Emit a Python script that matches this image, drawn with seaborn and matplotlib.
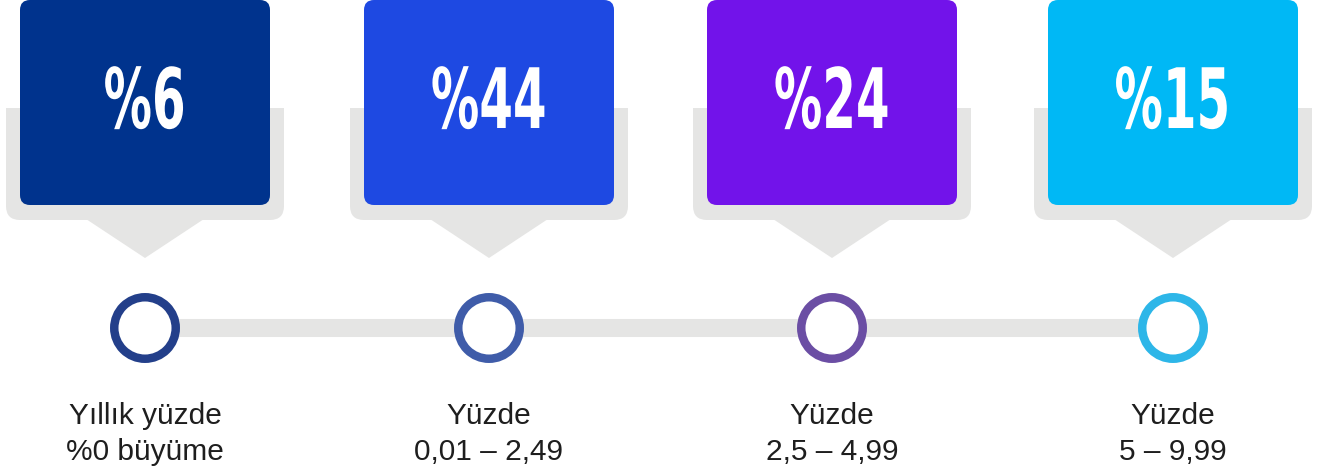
import matplotlib
matplotlib.use("Agg")
import matplotlib.pyplot as plt
from matplotlib.patches import FancyBboxPatch, Polygon, Rectangle
from matplotlib.patheffects import AbstractPathEffect
from matplotlib.transforms import Affine2D
import seaborn as sns
import pandas as pd

# ── data ───────────────────────────────────────────────────────────────────────
shares = [6, 44, 24, 15]
labels = ["Yıllık yüzde\n%0 büyüme", "Yüzde\n0,01 – 2,49", "Yüzde\n2,5 – 4,99", "Yüzde\n5 – 9,99"]
box_colours = ["#00338D", "#1E49E2", "#7213EA", "#00B8F5"]
ring_colours = ["#233F8A", "#3F5CA9", "#6B4EA4", "#2DB6E8"]

# ── layout (pixel-like coordinates) ───────────────────────────────────────────
centres = [145, 489, 832, 1173]
BOX_W, BOX_TOP, BOX_BOT = 250, 0, 205
SH_W, SH_TOP, SH_BOT = 278, 108, 220
TRACK_Y = 328
GREY = "#E5E5E4"


class Squeeze(AbstractPathEffect):
    """Narrow the glyphs horizontally (condensed look) around the text centre."""
    def __init__(self, sx):
        super().__init__()
        self.sx = sx

    def draw_path(self, renderer, gc, tpath, affine, rgbFace=None):
        ext = tpath.get_extents(affine)
        cx = (ext.x0 + ext.x1) / 2
        aff = affine + Affine2D().translate(-cx, 0).scale(self.sx, 1).translate(cx, 0)
        renderer.draw_path(gc, tpath, aff, rgbFace)


sns.set_theme(style="white")
plt.rcParams["font.family"] = ["Liberation Sans", "DejaVu Sans"]

fig = plt.figure(figsize=(13.34, 4.72), dpi=100)
ax = fig.add_axes([0, 0, 1, 1])
ax.set_xlim(0, 1334)
ax.set_ylim(472, 0)
ax.axis("off")

# track line
track = pd.DataFrame({"x": [centres[0], centres[-1]], "y": [TRACK_Y, TRACK_Y]})
sns.lineplot(data=track, x="x", y="y", ax=ax, color=GREY, linewidth=13,
             solid_capstyle="butt", legend=False, zorder=1)

# rings
rings = pd.DataFrame({"x": centres, "y": [TRACK_Y] * 4, "c": ring_colours})
sns.scatterplot(data=rings, x="x", y="y", hue="c", palette=dict(zip(ring_colours, ring_colours)),
                s=1960, linewidth=6.1, ax=ax, legend=False, zorder=3)
for coll in ax.collections:
    coll.set_edgecolors(ring_colours)
    coll.set_facecolors("white")

for cx, val, lab, col in zip(centres, shares, labels, box_colours):
    # grey shadow box + pointer
    ax.add_patch(FancyBboxPatch((cx - SH_W / 2 + 14, SH_TOP + 14), SH_W - 28, SH_BOT - SH_TOP - 28,
                                boxstyle="round,pad=14", fc=GREY, ec="none", zorder=1))
    ax.add_patch(Rectangle((cx - SH_W / 2, SH_TOP), SH_W, 30, fc=GREY, ec="none", zorder=1))
    ax.add_patch(Polygon([(cx - 59, SH_BOT - 1), (cx + 59, SH_BOT - 1), (cx, 258)],
                         closed=True, fc=GREY, ec="none", zorder=1))
    # coloured box
    ax.add_patch(FancyBboxPatch((cx - BOX_W / 2 + 10, BOX_TOP + 10), BOX_W - 20, BOX_BOT - BOX_TOP - 20,
                                boxstyle="round,pad=10", fc=col, ec="none", zorder=2))
    ax.text(cx, 128, f"%{val}", ha="center", va="baseline", color="white",
            fontsize=60, fontweight="bold", family="DejaVu Sans", zorder=4,
            path_effects=[Squeeze(0.58)])
    ax.text(cx, 434, lab, ha="center", va="center", color="#1e1e1e",
            fontsize=21.5, linespacing=1.36, zorder=4)

fig.savefig("out.png", dpi=100)
